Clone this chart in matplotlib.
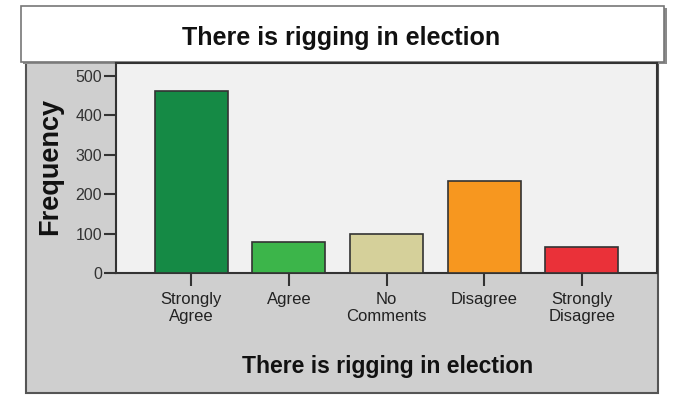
import matplotlib
matplotlib.use("Agg")
import matplotlib.pyplot as plt
from matplotlib.patches import Rectangle

categories = ["Strongly\nAgree", "Agree", "No\nComments", "Disagree", "Strongly\nDisagree"]
frequencies = [462, 78, 100, 233, 67]
bar_colors = ["#158a45", "#3cb54a", "#d5d09a", "#f7971f", "#ea3139"]
yticks = [0, 100, 200, 300, 400, 500]
title_text = "There is rigging in election"
xlabel_text = "There is rigging in election"
ylabel_text = "Frequency"

plt.rcParams['font.family'] = ['Liberation Sans', 'DejaVu Sans']

W, H = 678, 395
fig = plt.figure(figsize=(W / 100, H / 100), dpi=100)
fig.patch.set_facecolor("white")

def fx(px):
    return px / W

def fy(py):
    return 1 - py / H

# gray panel
fig.patches.append(Rectangle((fx(26), fy(393)), fx(658) - fx(26), fy(62) - fy(393),
                             transform=fig.transFigure, facecolor="#cfcfcf",
                             edgecolor="#555555", linewidth=1.5, zorder=-3))
# title box shadow
fig.patches.append(Rectangle((fx(23), fy(64)), fx(667) - fx(23), fy(8) - fy(64),
                             transform=fig.transFigure, facecolor="#8a8a8a",
                             edgecolor="none", zorder=-2))
# title box
fig.patches.append(Rectangle((fx(21), fy(62)), fx(664) - fx(21), fy(6) - fy(62),
                             transform=fig.transFigure, facecolor="white",
                             edgecolor="#777777", linewidth=1.2, zorder=-1))

fig.text(fx(341), fy(38), title_text, ha="center", va="center",
         fontsize=18, fontweight="bold", color="#111111")

ax = fig.add_axes([fx(116), fy(273), fx(657) - fx(116), fy(63) - fy(273)])
ax.set_zorder(1)
ax.set_facecolor("#f1f1f1")
x = range(len(categories))
ax.bar(x, frequencies, width=0.75, color=bar_colors, edgecolor="#333333", linewidth=1.2, zorder=3)
ax.set_xlim(-0.77, 4.77)
ax.set_ylim(0, 533)
ax.set_yticks(yticks)
ax.set_yticklabels([str(v) for v in yticks], fontsize=11.5, color="#333333")
ax.set_xticks(list(x))
ax.set_xticklabels(categories, fontsize=12, color="#222222", linespacing=1.15)
ax.tick_params(axis="both", direction="out", length=9, width=1.5, color="#333333")
ax.tick_params(axis="x", pad=5)
ax.tick_params(axis="y", pad=1)
for s in ["top", "right", "left", "bottom"]:
    ax.spines[s].set_visible(True)
    ax.spines[s].set_color("#333333")
    ax.spines[s].set_linewidth(1.5)

fig.text(fx(388), fy(366), xlabel_text, ha="center", va="center",
         fontsize=16.5, fontweight="bold", color="#111111")
fig.text(fx(50), fy(166), ylabel_text, ha="center", va="center", rotation=90,
         fontsize=19.5, fontweight="bold", color="#111111")

fig.savefig("out.png", dpi=100, facecolor="white")
